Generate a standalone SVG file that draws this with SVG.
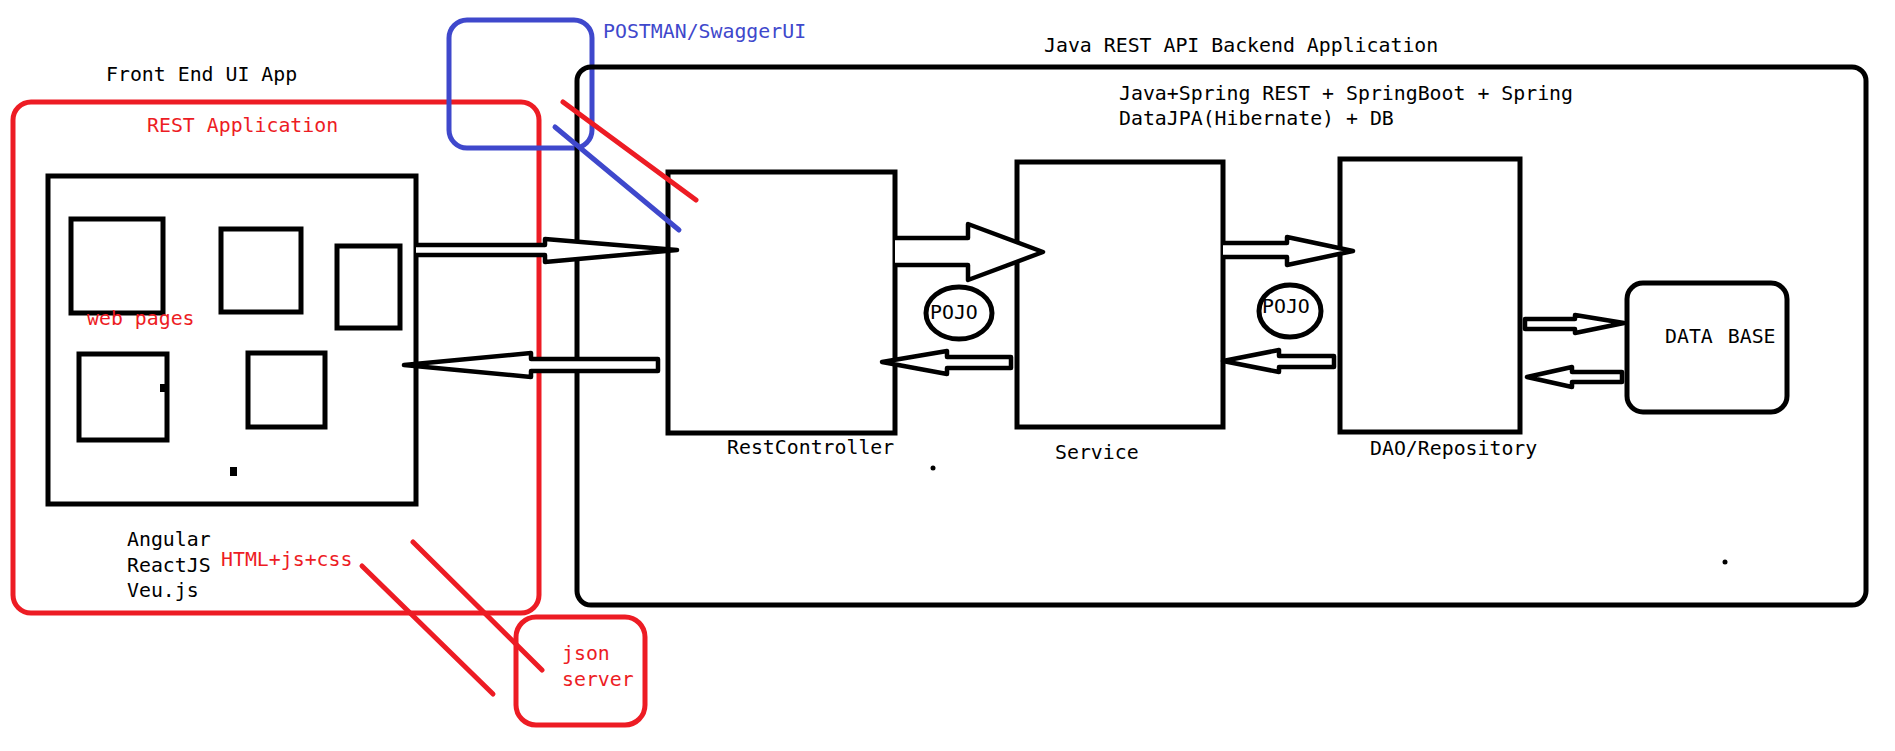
<svg xmlns="http://www.w3.org/2000/svg" width="1895" height="751" viewBox="0 0 1895 751">
<style>
.bg{fill:#fff}
.k{fill:none;stroke:#000;stroke-width:5}
.r{fill:none;stroke:#ed1c24;stroke-width:5}
.b{fill:none;stroke:#3f48cc;stroke-width:5}
.arw{fill:#fff;stroke:#000;stroke-width:4.5;stroke-linejoin:round}
.t{font-family:"DejaVu Sans Mono","Liberation Mono",monospace;font-size:19.85px;fill:#000}
.tr{fill:#ed1c24}
.tb{fill:#3f48cc}
.dot{fill:#000}
</style>
<rect class="bg" x="0" y="0" width="1895" height="751"/>

<g id="frontend">
  <text class="t" x="106" y="81">Front End UI App</text>
  <rect class="r" x="13" y="102" width="526" height="511" rx="18"/>
  <text class="t tr" x="147" y="132">REST Application</text>
  <rect class="k" x="48" y="176" width="368" height="328"/>
  <rect class="k" x="71" y="219" width="92" height="94"/>
  <rect class="k" x="221" y="229" width="80" height="83"/>
  <rect class="k" x="337" y="246" width="63" height="82"/>
  <rect class="k" x="79" y="354" width="88" height="86"/>
  <rect class="k" x="248" y="353" width="77" height="74"/>
  <rect class="dot" x="160" y="384" width="8" height="8"/>
  <rect class="dot" x="230" y="467" width="7" height="9"/>
  <text class="t tr" x="87" y="325">web pages</text>
  <text class="t" x="127" y="546">Angular</text>
  <text class="t" x="127" y="572">ReactJS</text>
  <text class="t" x="127" y="597">Veu.js</text>
  <text class="t tr" x="221" y="566">HTML+js+css</text>
</g>

<g id="postman">
  <rect class="b" x="449" y="20" width="143" height="128" rx="18"/>
  <text class="t tb" x="603" y="38">POSTMAN/SwaggerUI</text>
</g>

<g id="json-server">
  <rect class="r" x="516" y="617" width="129" height="108" rx="20"/>
  <text class="t tr" x="562" y="660">json</text>
  <text class="t tr" x="562" y="686">server</text>
</g>

<g id="backend">
  <text class="t" x="1044" y="52">Java REST API Backend Application</text>
  <rect class="k" x="577" y="67" width="1289" height="538" rx="14"/>
  <text class="t" x="1119" y="100">Java+Spring REST + SpringBoot + Spring</text>
  <text class="t" x="1119" y="125">DataJPA(Hibernate) + DB</text>
  <circle class="dot" cx="933" cy="468" r="2.5"/>
  <circle class="dot" cx="1725" cy="562" r="2.5"/>
</g>

<g id="restcontroller">
  <rect class="k" x="668" y="172" width="227" height="261"/>
  <text class="t" x="727" y="454">RestController</text>
</g>

<g id="service">
  <rect class="k" x="1017" y="162" width="206" height="265"/>
  <text class="t" x="1055" y="459">Service</text>
</g>

<g id="dao">
  <rect class="k" x="1340" y="159" width="180" height="273"/>
  <text class="t" x="1370" y="455">DAO/Repository</text>
</g>

<g id="database">
  <rect class="k" x="1627" y="283" width="160" height="129" rx="16"/>
  <text class="t" x="1665" y="343" word-spacing="3">DATA BASE</text>
</g>

<g id="pojo1">
  <ellipse class="k" cx="959" cy="313" rx="33" ry="26"/>
  <text class="t" x="930" y="319">POJO</text>
</g>

<g id="pojo2">
  <ellipse class="k" cx="1290" cy="311" rx="31" ry="26"/>
  <text class="t" x="1262" y="313">POJO</text>
</g>

<g id="connectors">
  <polyline class="arw" points="416,245 545,245 545,239 677,250 545,262 545,255 416,255"/>
  <polygon class="arw" points="404,365 531,353 531,359 658,359 658,371 531,371 531,377"/>
  <polyline class="arw" points="895,238 968,238 968,224 1043,252 968,280 968,265 895,265"/>
  <polyline class="arw" points="1223,243 1287,243 1287,237 1353,251 1287,265 1287,257 1223,257"/>
  <polygon class="arw" points="882,362 947,351 947,357 1011,357 1011,368 947,368 947,374"/>
  <polygon class="arw" points="1223,361 1279,350 1279,356 1334,356 1334,367 1279,367 1279,372"/>
  <polygon class="arw" points="1525,319 1575,319 1575,315 1624,323 1575,333 1575,329 1525,329"/>
  <polygon class="arw" points="1527,377 1572,367 1572,372 1622,372 1622,382 1572,382 1572,387"/>
  <line class="r" x1="563" y1="102" x2="696" y2="200" stroke-linecap="round"/>
  <line class="b" x1="555" y1="127" x2="679" y2="230" stroke-linecap="round"/>
  <line class="r" x1="413" y1="542" x2="542" y2="670" stroke-linecap="round"/>
  <line class="r" x1="362" y1="566" x2="493" y2="694" stroke-linecap="round"/>
</g>
</svg>
